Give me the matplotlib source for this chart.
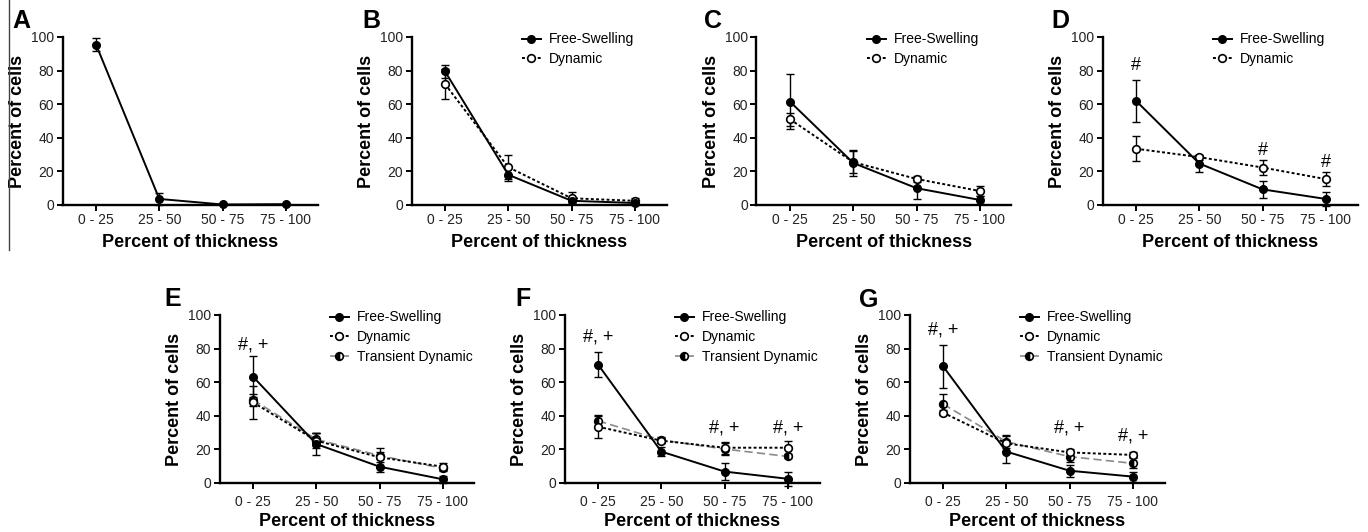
import matplotlib
matplotlib.use('Agg')
import matplotlib.pyplot as plt
from matplotlib.lines import Line2D

plt.rcParams['font.family'] = ['Liberation Sans', 'DejaVu Sans']

categories = ['0 - 25', '25 - 50', '50 - 75', '75 - 100']
yticks = [0, 20, 40, 60, 80, 100]
series_names = ['Free-Swelling', 'Dynamic', 'Transient Dynamic']

# Panel A
a_free = [95.5, 3.6, 0.3, 0.5]
a_free_err = [4.0, 3.7, 0.4, 0.4]
# Panel B
b_free = [79.5, 18.0, 2.5, 1.2]
b_free_err = [4.0, 4.0, 2.0, 1.0]
b_dyn = [72.0, 22.5, 4.0, 2.5]
b_dyn_err = [9.0, 7.0, 3.5, 1.5]
# Panel C
c_free = [61.5, 25.0, 10.0, 3.0]
c_free_err = [16.5, 7.5, 6.3, 2.5]
c_dyn = [51.0, 25.5, 15.5, 8.3]
c_dyn_err = [4.0, 6.5, 2.0, 3.0]
# Panel D
d_free = [62.0, 24.7, 9.3, 3.6]
d_free_err = [12.7, 5.0, 5.0, 4.3]
d_dyn = [33.5, 28.5, 22.3, 15.4]
d_dyn_err = [7.3, 1.5, 4.3, 4.0]
# Panel E
e_free = [63.3, 23.2, 9.7, 2.2]
e_free_err = [12.0, 6.5, 3.0, 2.0]
e_dyn = [48.0, 25.2, 15.3, 9.7]
e_dyn_err = [10.0, 4.5, 5.5, 2.0]
e_trans = [49.5, 26.0, 16.3, 8.7]
e_trans_err = [3.5, 4.0, 2.0, 1.5]
# Panel F
f_free = [70.5, 18.7, 6.8, 2.5]
f_free_err = [7.5, 2.5, 5.0, 4.0]
f_dyn = [33.5, 25.2, 21.0, 21.0]
f_dyn_err = [7.0, 1.5, 3.5, 4.0]
f_trans = [37.0, 25.6, 20.2, 15.8]
f_trans_err = [3.0, 1.5, 3.5, 1.0]
# Panel G
g_free = [69.5, 18.7, 7.3, 3.8]
g_free_err = [12.7, 6.6, 3.5, 3.0]
g_dyn = [41.9, 23.6, 18.2, 16.7]
g_dyn_err = [1.5, 4.5, 2.0, 1.5]
g_trans = [47.0, 24.6, 15.7, 11.7]
g_trans_err = [6.0, 4.0, 3.0, 3.0]

# significance marks
d_marks = ['#', '', '#', '#']
e_marks = ['#, +', '', '', '']
f_marks = ['#, +', '', '#, +', '#, +']
g_marks = ['#, +', '', '#, +', '#, +']

W, H = 1368, 532
fig = plt.figure(figsize=(W / 100, H / 100), dpi=100)

styles = [
    dict(color='black', linestyle='-', linewidth=1.4, marker='o', markersize=5.5,
         markerfacecolor='black', markeredgecolor='black'),
    dict(color='black', linestyle=(0, (1.5, 1.2)), linewidth=1.4, marker='o', markersize=5.5,
         markerfacecolor='white', markeredgecolor='black', markeredgewidth=1.2),
    dict(color='#8a8a8a', linestyle=(0, (5, 2.5)), linewidth=1.2, marker='o', markersize=5.5,
         fillstyle='left', markerfacecolor='black', markerfacecoloralt='white',
         markeredgecolor='black', markeredgewidth=1.2),
]


def axes_at(left_px, top_px, width_px=255, height_px=168):
    return fig.add_axes([left_px / W, 1 - (top_px + height_px) / H, width_px / W, height_px / H])


def draw_panel(ax, series, marks=None, mark_y=None, legend=True, row=0):
    x = list(range(len(categories)))
    for i, (vals, errs) in enumerate(series):
        ax.errorbar(x, vals, yerr=errs, fmt='none', ecolor='black', elinewidth=1.0,
                    capsize=2.6, capthick=1.0, clip_on=False, zorder=2)
    for i, (vals, errs) in enumerate(series):
        ax.plot(x, vals, label=series_names[i], clip_on=False, zorder=3 + (len(series) - i) * 0.1,
                **styles[i])
    ax.set_xlim(-0.53, 3.5)
    ax.set_ylim(0, 100)
    ax.set_xticks(x)
    ax.set_xticklabels(categories, fontsize=10, color='#222222')
    ax.set_yticks(yticks)
    ax.set_yticklabels([str(t) for t in yticks], fontsize=10, color='#222222')
    for s in ['top', 'right']:
        ax.spines[s].set_visible(False)
    for s in ['left', 'bottom']:
        ax.spines[s].set_linewidth(1.7)
    ax.tick_params(axis='both', direction='out', length=4, width=1.4)
    ax.tick_params(axis='x', pad=2 if row == 0 else 5)
    ax.tick_params(axis='y', pad=2)
    ax.set_ylabel('Percent of cells', fontsize=13, fontweight='bold')
    ax.set_xlabel('Percent of thickness', fontsize=13, fontweight='bold')
    ax.yaxis.set_label_coords(-0.145, 0.5)
    ax.xaxis.set_label_coords(0.5, -0.175 if row == 0 else -0.18)
    if marks is not None:
        for xi, (m, my) in enumerate(zip(marks, mark_y)):
            if m:
                ax.text(xi, my, m, ha='center', va='center', fontsize=13)
    if legend:
        ax.legend(loc='upper left', bbox_to_anchor=(0.41, 1.06), frameon=False, fontsize=10,
                  handlelength=1.4, handletextpad=0.55, labelspacing=0.42, numpoints=1,
                  borderaxespad=0)


# top row
axA = axes_at(62.5, 37)
draw_panel(axA, [(a_free, a_free_err)], legend=False, row=0)
axB = axes_at(411.5, 37)
draw_panel(axB, [(b_free, b_free_err), (b_dyn, b_dyn_err)], row=0)
axC = axes_at(756.5, 37)
draw_panel(axC, [(c_free, c_free_err), (c_dyn, c_dyn_err)], row=0)
axD = axes_at(1102.5, 37)
draw_panel(axD, [(d_free, d_free_err), (d_dyn, d_dyn_err)], d_marks, [83, 0, 32.5, 25.5], row=0)

# bottom row
axE = axes_at(219.5, 315)
draw_panel(axE, [(e_free, e_free_err), (e_dyn, e_dyn_err), (e_trans, e_trans_err)],
           e_marks, [82, 0, 0, 0], row=1)
axF = axes_at(564.5, 315)
draw_panel(axF, [(f_free, f_free_err), (f_dyn, f_dyn_err), (f_trans, f_trans_err)],
           f_marks, [87, 0, 32.7, 32.7], row=1)
axG = axes_at(909.5, 315)
draw_panel(axG, [(g_free, g_free_err), (g_dyn, g_dyn_err), (g_trans, g_trans_err)],
           g_marks, [91, 0, 32.7, 28], row=1)

# panel letters
letters = [('A', 21, 21), ('B', 371, 21), ('C', 713, 21), ('D', 1060, 21),
           ('E', 173, 299), ('F', 523, 299), ('G', 869, 300)]
for lab, px, py in letters:
    fig.text(px / W, 1 - py / H, lab, fontsize=18, fontweight='bold', ha='center', va='center')

# left border line of panel A
fig.add_artist(Line2D([8.5 / W, 8.5 / W], [1.0, 1 - 250 / H], color='#444444', linewidth=1.0))

fig.savefig('out.png', dpi=100)
